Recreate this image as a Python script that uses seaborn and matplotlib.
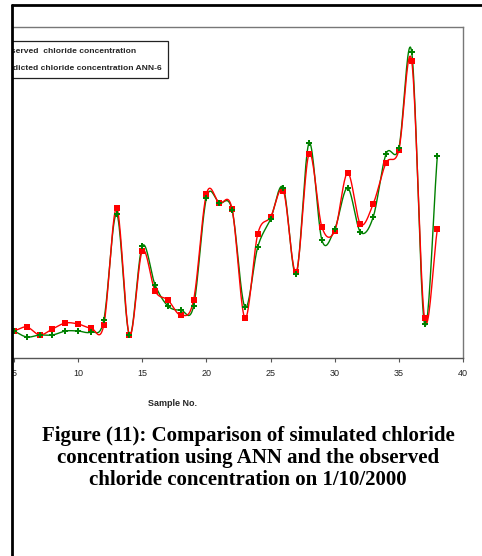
import numpy as np
import pandas as pd
import matplotlib
matplotlib.use("Agg")
import matplotlib.pyplot as plt
import seaborn as sns
from matplotlib.patches import Rectangle
from matplotlib.lines import Line2D

# ---- data (arbitrary concentration units) ----
sample_no = list(range(5, 39))
observed = [27, 21, 23, 23, 27, 27, 26, 38, 144, 23, 112, 73, 52, 48, 52, 160, 155, 148,
            51, 111, 139, 170, 84, 215, 118, 129, 170, 126, 141, 204, 210, 306, 34, 202]
predicted = [27, 31, 23, 29, 35, 34, 30, 33, 150, 23, 107, 67, 58, 43, 58, 164, 155, 149,
             40, 124, 141, 167, 86, 204, 131, 127, 185, 134, 154, 195, 208, 297, 40, 129]
series_labels = ["Observed  chloride concentration", "Predicted chloride concentration ANN-6"]
x_ticks = [5, 10, 15, 20, 25, 30, 35, 40]
x_label = "Sample No."
caption = ("Figure (11): Comparison of simulated chloride\n"
           "concentration using ANN and the observed\n"
           "chloride concentration on 1/10/2000")


def smooth(xs, ys, n=20):
    """Catmull-Rom rendering of a smoothed line (like a spreadsheet 'smoothed line')."""
    xs = np.asarray(xs, float)
    ys = np.asarray(ys, float)
    px = np.concatenate([[2 * xs[0] - xs[1]], xs, [2 * xs[-1] - xs[-2]]])
    py = np.concatenate([[2 * ys[0] - ys[1]], ys, [2 * ys[-1] - ys[-2]]])
    ox, oy = [], []
    t = np.linspace(0, 1, n, endpoint=False)
    for i in range(1, len(px) - 2):
        for P, out in ((px, ox), (py, oy)):
            p0, p1, p2, p3 = P[i - 1], P[i], P[i + 1], P[i + 2]
            out.extend(0.5 * ((2 * p1) + (-p0 + p2) * t +
                              (2 * p0 - 5 * p1 + 4 * p2 - p3) * t ** 2 +
                              (-p0 + 3 * p1 - 3 * p2 + p3) * t ** 3))
    ox.append(xs[-1])
    oy.append(ys[-1])
    return np.array(ox), np.array(oy)


sns.set_theme(style="white")
plt.rcParams['font.family'] = ['Liberation Sans', 'DejaVu Sans']

W, H = 482, 556
fig = plt.figure(figsize=(W / 100, H / 100), dpi=100)

# axes: y-axis lies outside the visible page (cropped as in the reference)
x5_px, x40_px = 14.0, 463.0
ppu = (x40_px - x5_px) / 35.0
left_px = x5_px - 5 * ppu
top_px, bottom_px = 27.0, 358.0
ax = fig.add_axes([left_px / W, 1 - bottom_px / H, (x40_px - left_px) / W, (bottom_px - top_px) / H])
ax.set_xlim(0, 40)
ax.set_ylim(0, 331)

green = "#008000"
red = "#FF0000"

sx, sy = smooth(sample_no, observed)
sns.lineplot(x=sx, y=sy, ax=ax, color=green, lw=1.0, sort=False, estimator=None)
sx2, sy2 = smooth(sample_no, predicted)
sns.lineplot(x=sx2, y=sy2, ax=ax, color=red, lw=1.0, sort=False, estimator=None)

df = pd.DataFrame({"x": sample_no, "obs": observed, "pred": predicted})
sns.scatterplot(data=df, x="x", y="pred", ax=ax, marker="s", color=red, s=20,
                linewidth=0, zorder=4)
sns.scatterplot(data=df, x="x", y="obs", ax=ax, marker="P", color=green, s=14,
                linewidth=0, zorder=5)

ax.set_xticks(x_ticks)
ax.set_xticklabels([str(v) for v in x_ticks], fontsize=6.5, color="#222222")
ax.set_yticks([])
ax.tick_params(axis="x", direction="out", length=3, width=0.8, color="#555555", pad=5,
               bottom=True)
ax.set_xlabel(x_label, fontsize=6.5, fontweight="bold")
ax.xaxis.set_label_coords((172 - left_px) / (x40_px - left_px), -(403 - bottom_px) / (bottom_px - top_px))
ax.xaxis.label.set_verticalalignment("center")
ax.set_ylabel("")
for side in ["top", "right", "bottom", "left"]:
    ax.spines[side].set_visible(True)
    ax.spines[side].set_color("#777777")
    ax.spines[side].set_linewidth(1.0)
ax.spines["bottom"].set_color("#555555")

handles = [Line2D([], [], color=green, marker="P", markersize=4, lw=1),
           Line2D([], [], color=red, marker="s", markersize=4, lw=1)]
leg = ax.legend(handles, series_labels, loc="upper right",
                bbox_to_anchor=(168 / W, 1 - 41 / H), bbox_transform=fig.transFigure,
                prop={"size": 6.1, "weight": "bold"}, frameon=True, fancybox=False,
                framealpha=1, edgecolor="#222222", labelspacing=1.1,
                borderpad=0.7, handlelength=2.5, borderaxespad=0)
leg.get_frame().set_linewidth(0.9)

# page margin and frame lines (the chart is cropped on the left)
fig.add_artist(Rectangle((0, 0), 12 / W, 1, transform=fig.transFigure,
                         facecolor="white", edgecolor="none", zorder=20))
fig.add_artist(Line2D([12 / W, 12 / W], [0, 1 - 5 / H], transform=fig.transFigure,
                      color="black", lw=2.0, zorder=21))
fig.add_artist(Line2D([12 / W, 1], [1 - 5 / H, 1 - 5 / H], transform=fig.transFigure,
                      color="black", lw=2.0, zorder=21))

fig.text(248 / W, 1 - 458 / H, caption, ha="center", va="center",
         family=["Liberation Serif", "DejaVu Serif"], fontweight="bold",
         fontsize=15, linespacing=1.12, color="black")

fig.savefig("out.png", dpi=100, facecolor="white")
